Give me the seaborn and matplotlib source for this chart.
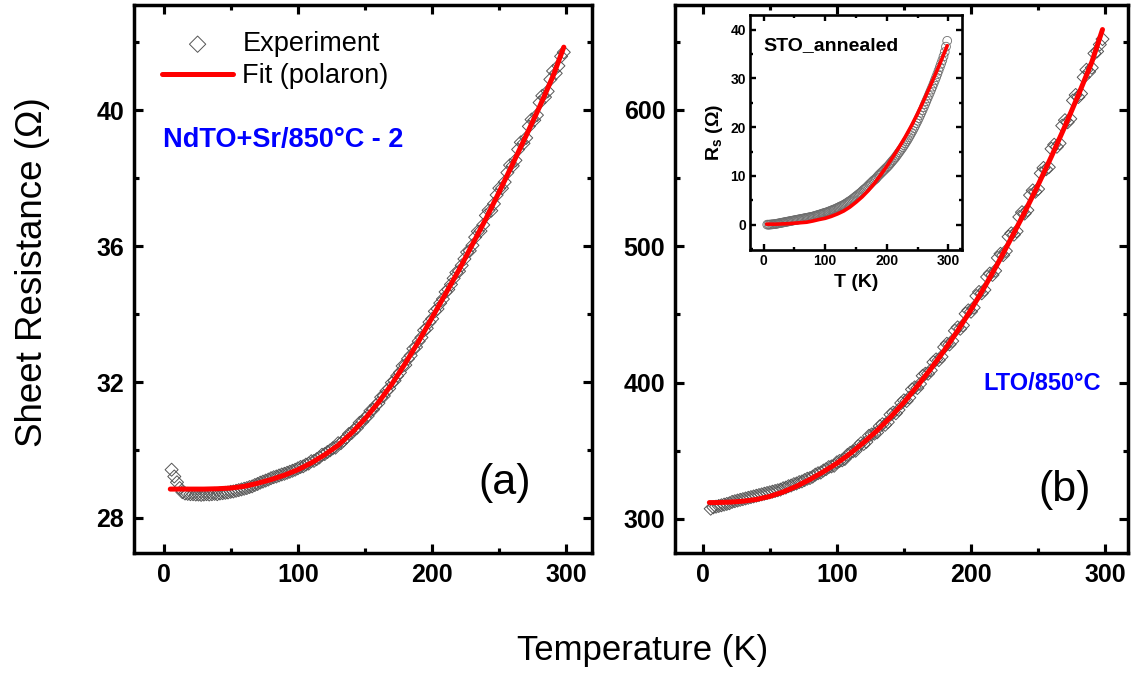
import matplotlib
matplotlib.use("Agg")
import matplotlib.pyplot as plt
from matplotlib.ticker import MultipleLocator
import seaborn as sns

# ---- measured temperature sweep (K) ----
temp_exp = [6, 8, 10, 12, 14, 16, 18, 20, 22, 24,
            26, 28, 30, 32, 34, 36, 38, 40, 42, 44,
            46, 48, 50, 52, 54, 56, 58, 60, 62, 64,
            66, 68, 70, 72, 74, 76, 78, 80, 82, 84,
            86, 88, 90, 92, 94, 96, 98, 100, 102, 104,
            106, 108, 110, 112, 114, 116, 118, 120, 122, 124,
            126, 128, 130, 132, 134, 136, 138, 140, 142, 144,
            146, 148, 150, 152, 154, 156, 158, 160, 162, 164,
            166, 168, 170, 172, 174, 176, 178, 180, 182, 184,
            186, 188, 190, 192, 194, 196, 198, 200, 202, 204,
            206, 208, 210, 212, 214, 216, 218, 220, 222, 224,
            226, 228, 230, 232, 234, 236, 238, 240, 242, 244,
            246, 248, 250, 252, 254, 256, 258, 260, 262, 264,
            266, 268, 270, 272, 274, 276, 278, 280, 282, 284,
            286, 288, 290, 292, 294, 296, 298]

# (a) NdTO+Sr/850C - 2 : sheet resistance (Ohm)
r_ndto_exp = [29.42, 29.22, 29.05, 28.88, 28.76, 28.72, 28.71, 28.70, 28.70, 28.69,
              28.69, 28.68, 28.69, 28.70, 28.69, 28.70, 28.71, 28.70, 28.72, 28.73,
              28.74, 28.75, 28.77, 28.78, 28.80, 28.82, 28.84, 28.86, 28.88, 28.91,
              28.93, 28.97, 29.00, 29.04, 29.07, 29.10, 29.13, 29.17, 29.20, 29.22,
              29.25, 29.28, 29.30, 29.33, 29.36, 29.39, 29.42, 29.46, 29.50, 29.52,
              29.57, 29.60, 29.67, 29.68, 29.73, 29.78, 29.86, 29.88, 29.94, 29.99,
              30.05, 30.07, 30.20, 30.20, 30.28, 30.36, 30.47, 30.50, 30.60, 30.65,
              30.80, 30.83, 30.94, 31.00, 31.15, 31.19, 31.31, 31.38, 31.55, 31.59,
              31.74, 31.81, 31.98, 32.04, 32.18, 32.28, 32.47, 32.50, 32.68, 32.78,
              32.98, 33.03, 33.20, 33.31, 33.52, 33.58, 33.76, 33.86, 34.08, 34.15,
              34.32, 34.44, 34.65, 34.72, 34.87, 35.05, 35.22, 35.26, 35.43, 35.62,
              35.82, 35.86, 36.02, 36.26, 36.43, 36.44, 36.62, 36.90, 37.05, 37.04,
              37.24, 37.50, 37.70, 37.70, 37.88, 38.16, 38.38, 38.36, 38.52, 38.84,
              39.05, 39.02, 39.18, 39.52, 39.72, 39.70, 39.85, 40.22, 40.42, 40.38,
              40.55, 40.90, 41.15, 41.08, 41.30, 41.58, 41.70]

# (b) LTO/850C : sheet resistance (Ohm)
r_lto_exp = [307.5, 308.5, 309.0, 309.5, 310.0, 310.5, 311.0, 311.5, 312.5, 313.0,
             313.5, 314.0, 314.5, 315.0, 315.5, 316.0, 316.5, 317.0, 317.5, 318.0,
             318.5, 319.0, 319.5, 320.0, 320.5, 321.0, 321.5, 322.5, 323.0, 324.0,
             324.5, 325.5, 326.0, 327.0, 327.5, 328.5, 329.5, 330.0, 331.0, 332.5,
             333.5, 334.0, 335.5, 336.5, 338.0, 338.5, 339.0, 341.5, 342.5, 343.0,
             344.0, 347.0, 348.5, 349.5, 350.0, 353.5, 355.5, 355.0, 356.5, 361.0,
             362.0, 362.5, 363.5, 368.0, 369.5, 369.0, 371.0, 376.5, 378.0, 377.5,
             380.0, 385.0, 387.0, 386.5, 389.0, 395.0, 396.5, 396.0, 399.0, 405.0,
             406.5, 406.5, 409.0, 415.0, 417.0, 416.5, 419.0, 426.0, 428.5, 428.0,
             430.5, 438.0, 440.5, 439.5, 442.0, 450.5, 453.0, 452.0, 455.0, 463.5,
             466.5, 465.5, 468.0, 477.5, 480.0, 479.0, 482.0, 491.5, 494.5, 493.5,
             496.5, 507.0, 509.5, 508.5, 511.0, 521.5, 525.0, 524.0, 526.5, 537.5,
             541.0, 540.0, 542.0, 553.5, 557.5, 556.5, 558.0, 571.5, 574.5, 573.0,
             575.5, 588.5, 592.5, 591.0, 593.5, 607.0, 611.0, 609.5, 612.0, 624.0,
             629.5, 628.0, 631.0, 641.5, 643.0, 648.0, 652.0]

# inset, STO_annealed : sheet resistance (Ohm)
r_sto_exp = [0.0, 0.0, 0.0, 0.05, 0.05, 0.1, 0.1, 0.15, 0.2, 0.25,
             0.3, 0.35, 0.4, 0.45, 0.5, 0.55, 0.6, 0.65, 0.7, 0.75,
             0.8, 0.85, 0.9, 0.95, 1.0, 1.05, 1.1, 1.15, 1.2, 1.25,
             1.3, 1.35, 1.4, 1.45, 1.5, 1.55, 1.6, 1.65, 1.75, 1.8,
             1.9, 1.95, 2.05, 2.1, 2.2, 2.3, 2.35, 2.45, 2.5, 2.6,
             2.7, 2.8, 2.9, 3.0, 3.1, 3.2, 3.3, 3.45, 3.55, 3.7,
             3.8, 3.9, 4.05, 4.2, 4.35, 4.5, 4.7, 4.85, 5.0, 5.2,
             5.4, 5.6, 5.8, 6.0, 6.2, 6.4, 6.6, 6.85, 7.1, 7.3,
             7.5, 7.75, 8.0, 8.25, 8.5, 8.75, 9.0, 9.2, 9.4, 9.7,
             10.0, 10.25, 10.5, 10.75, 11.0, 11.25, 11.5, 11.75, 12.0, 12.3,
             12.6, 12.9, 13.2, 13.5, 13.8, 14.15, 14.5, 14.85, 15.2, 15.55,
             15.9, 16.3, 16.7, 17.1, 17.5, 17.95, 18.4, 18.85, 19.3, 19.8,
             20.3, 20.8, 21.3, 21.85, 22.4, 22.95, 23.5, 24.1, 24.7, 25.3,
             25.9, 26.5, 27.1, 27.7, 28.3, 28.95, 29.6, 30.25, 30.9, 31.6,
             32.3, 33.0, 33.7, 34.5, 35.4, 36.5, 37.7]

# ---- polaron fits ----
temp_fit = [5, 10, 20, 30, 40, 50, 60, 70, 80, 90, 100, 110, 120, 130, 140, 150,
            160, 170, 180, 190, 200, 210, 220, 230, 240, 250, 260, 270, 280, 290, 298]
r_ndto_fit = [28.85, 28.85, 28.85, 28.85, 28.86, 28.88, 28.93, 29.02, 29.13, 29.26,
              29.42, 29.62, 29.86, 30.14, 30.50, 30.92, 31.40, 31.94, 32.55, 33.20,
              33.90, 34.60, 35.30, 36.05, 36.80, 37.60, 38.42, 39.25, 40.10, 41.00,
              41.85]
r_lto_fit = [312.0, 312.0, 312.3, 313.0, 314.3, 316.5, 319.8, 324.0, 329.0, 334.6,
             340.8, 348.0, 356.0, 364.8, 374.6, 385.5, 397.5, 410.0, 423.5, 438.0,
             453.5, 470.0, 487.5, 506.0, 525.0, 545.0, 566.0, 588.0, 611.0, 635.0,
             659.0]
r_sto_fit = [0.1, 0.1, 0.1, 0.15, 0.2, 0.3, 0.4, 0.5, 0.75, 1.05,
             1.3, 1.7, 2.2, 2.8, 3.6, 4.6, 5.7, 7.0, 8.5, 10.2,
             12.0, 13.9, 15.9, 18.0, 20.3, 22.8, 25.5, 28.3, 31.2, 34.2,
             36.7]

# ---- tick labels ----
t_ticks = [0, 100, 200, 300]
ndto_ticks = [28, 32, 36, 40]
lto_ticks = [300, 400, 500, 600]
sto_ticks = [0, 10, 20, 30, 40]

sns.set_style("ticks")
plt.rcParams["font.family"] = ["Liberation Sans", "DejaVu Sans"]
plt.rcParams["mathtext.fontset"] = "custom"
plt.rcParams["mathtext.rm"] = "Liberation Sans"
plt.rcParams["mathtext.bf"] = "Liberation Sans:bold"
plt.rcParams["mathtext.it"] = "Liberation Sans:italic"
for key in ("text.color", "axes.labelcolor", "xtick.color", "ytick.color",
            "axes.edgecolor"):
    plt.rcParams[key] = "black"

W, H = 1133, 675
fig = plt.figure(figsize=(W / 100, H / 100), dpi=100)
fig.patch.set_facecolor("white")


def px_axes(x0, y0, x1, y1):
    return fig.add_axes([x0 / W, 1 - y1 / H, (x1 - x0) / W, (y1 - y0) / H])


ax_a = px_axes(134, 5, 592, 553)
ax_b = px_axes(675, 5, 1128, 553)
ax_in = px_axes(750, 15, 962, 250)

exp_kw = dict(marker="D", s=44, facecolor="none", edgecolor="#555555", linewidth=0.7)
fit_kw = dict(color="#ff0000", linewidth=3.6)


def style_axes(ax, xt, yt, xminor, yminor, lsize, spw, majlen, minlen, pad):
    ax.set_xticks(xt)
    ax.set_xticklabels([str(v) for v in xt], fontweight="bold", fontsize=lsize)
    ax.set_yticks(yt)
    ax.set_yticklabels([str(v) for v in yt], fontweight="bold", fontsize=lsize)
    ax.xaxis.set_minor_locator(MultipleLocator(xminor))
    ax.yaxis.set_minor_locator(MultipleLocator(yminor))
    ax.tick_params(which="both", direction="in", top=True, right=True,
                   color="black", labelcolor="black", width=spw * 0.9)
    ax.tick_params(which="major", length=majlen, pad=pad)
    ax.tick_params(which="minor", length=minlen)
    for sp in ax.spines.values():
        sp.set_linewidth(spw)
        sp.set_color("black")
        sp.set_visible(True)
    ax.set_xlabel("")
    ax.set_ylabel("")


# ---- panel (a) ----
sns.scatterplot(x=temp_exp, y=r_ndto_exp, ax=ax_a, label="Experiment", legend=False, **exp_kw)
sns.lineplot(x=temp_fit, y=r_ndto_fit, ax=ax_a, label="Fit (polaron)", legend=False, **fit_kw)
ax_a.set_xlim(-22, 319)
ax_a.set_ylim(26.97, 43.09)
style_axes(ax_a, t_ticks, ndto_ticks, 50, 2, 18, 2.5, 6.5, 3.6, 7)
ax_a.legend(loc="upper left", bbox_to_anchor=(0.062, 0.952), frameon=False,
            fontsize=19.5, handlelength=2.6, handletextpad=0.35, markerscale=1.25,
            labelspacing=0.22, borderpad=0, borderaxespad=0)
ax_a.text(0.063, 0.754, "NdTO+Sr/850°C - 2", transform=ax_a.transAxes,
          color="#0000ff", fontsize=19.5, fontweight="bold", ha="left", va="center")
ax_a.text(0.81, 0.128, "(a)", transform=ax_a.transAxes, fontsize=31,
          ha="center", va="center")

# ---- panel (b) ----
sns.scatterplot(x=temp_exp, y=r_lto_exp, ax=ax_b, legend=False, **exp_kw)
sns.lineplot(x=temp_fit, y=r_lto_fit, ax=ax_b, legend=False, **fit_kw)
ax_b.set_xlim(-20.6, 317)
ax_b.set_ylim(275, 677)
style_axes(ax_b, t_ticks, lto_ticks, 50, 50, 18, 2.5, 6.5, 3.6, 7)
ax_b.text(0.68, 0.31, "LTO/850°C", transform=ax_b.transAxes,
          color="#0000ff", fontsize=17, fontweight="bold", ha="left", va="center")
ax_b.text(0.86, 0.115, "(b)", transform=ax_b.transAxes, fontsize=31,
          ha="center", va="center")

# ---- inset ----
sns.scatterplot(x=temp_exp, y=r_sto_exp, ax=ax_in, legend=False, marker="o", s=40,
                facecolor="none", edgecolor="#6e6e6e", linewidth=0.6)
sns.lineplot(x=temp_fit, y=r_sto_fit, ax=ax_in, legend=False, color="#ff0000", linewidth=2.6)
ax_in.set_xlim(-22, 322)
ax_in.set_ylim(-5.2, 43)
style_axes(ax_in, t_ticks, sto_ticks, 50, 5, 10, 1.9, 4, 2.3, 3)
ax_in.set_xlabel("T (K)", fontsize=14, fontweight="bold", labelpad=4)
ax_in.set_ylabel(r"$\mathbf{R_s}$ (Ω)", fontsize=14, fontweight="bold", labelpad=4)
ax_in.text(0.061, 0.872, "STO_annealed", transform=ax_in.transAxes,
           fontsize=14, fontweight="bold", ha="left", va="center")

# ---- shared axis titles ----
fig.text(0.567, 0.037, "Temperature (K)", ha="center", va="center", fontsize=25)
fig.text(0.029, 0.597, "Sheet Resistance (Ω)", ha="center", va="center",
         rotation=90, fontsize=26.5)

fig.savefig("out.png", dpi=100, facecolor="white")
